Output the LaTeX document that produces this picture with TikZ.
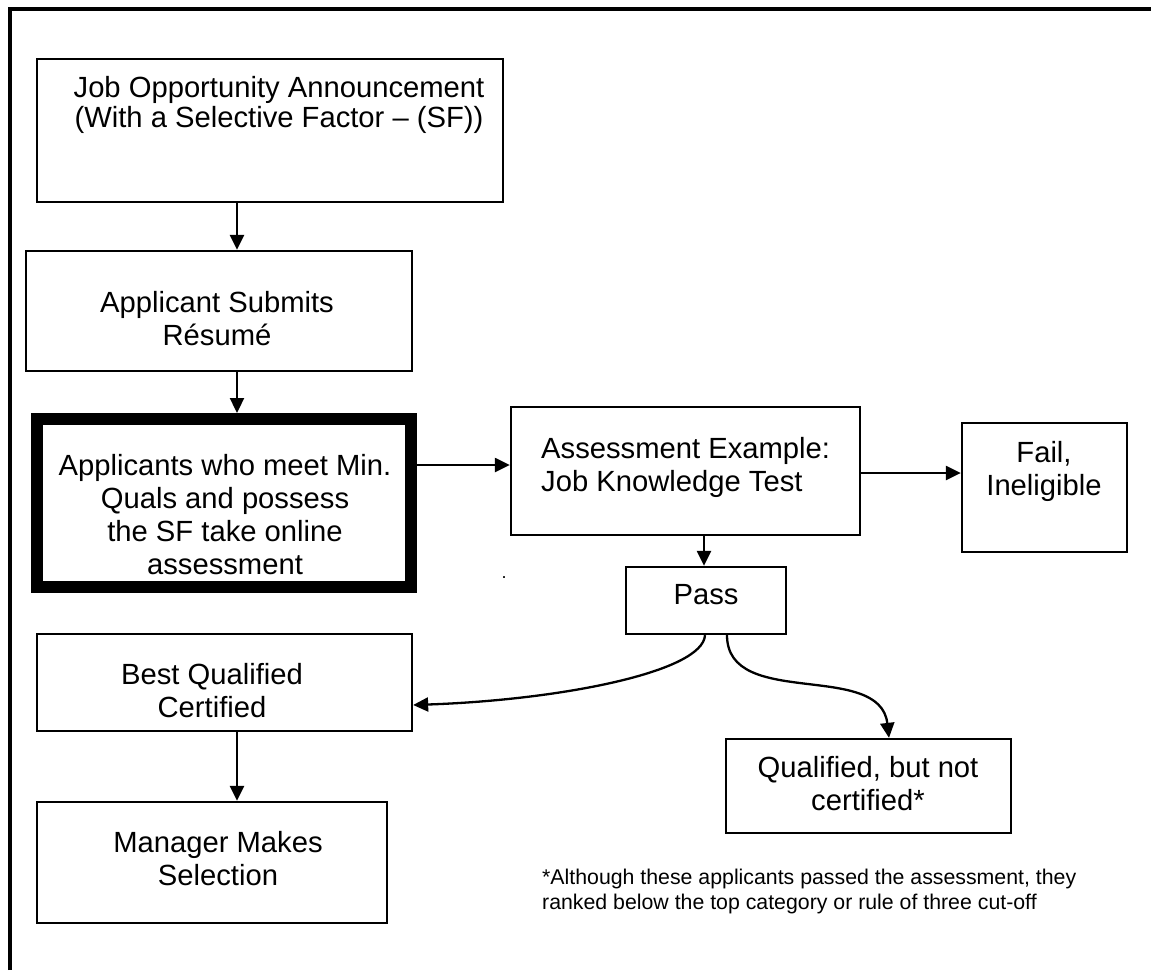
\documentclass[tikz,border=0pt]{standalone}
\usepackage{fontspec}
\setmainfont{Liberation Sans}
\usetikzlibrary{arrows.meta}

\tikzset{
  box/.style={draw, rectangle, line width=2.3pt, inner sep=0pt, outer sep=0.5\pgflinewidth},
  heavybox/.style={draw, rectangle, line width=12pt, inner sep=0pt},
  lbl/.style={inner sep=0pt, align=center, font=\fontsize{29.2}{33}\selectfont},
  lblleft/.style={inner sep=0pt, align=left, font=\fontsize{29.2}{33}\selectfont},
  note/.style={inner sep=0pt, align=left, font=\fontsize{21.3}{25}\selectfont},
  arr/.style={line width=2.3pt, -{Triangle[length=15pt,width=14pt]}},
  frameline/.style={line width=4pt, line join=miter},
}

\begin{document}
\begin{tikzpicture}[x=1pt, y=-1pt]
  \useasboundingbox (0,0) rectangle (1151,970);

  % page frame (top and left rules)
  \draw[frameline] (10,970) -- (10,8.5) -- (1151,8.5);

  % boxes
  \node[box, minimum width=466pt, minimum height=143pt] (joa)     at (270,130.5) {};
  \node[box, minimum width=386pt, minimum height=120pt] (resume)  at (219,311)   {};
  \node[heavybox, minimum width=374pt, minimum height=168pt] (quals) at (224,503) {};
  \node[box, minimum width=349pt, minimum height=128pt] (assess)  at (685.5,471) {};
  \node[box, minimum width=165pt, minimum height=129pt] (fail)    at (1044.5,487.5) {};
  \node[box, minimum width=160pt, minimum height=67pt]  (pass)    at (706,600.5) {};
  \node[box, minimum width=375pt, minimum height=97pt]  (best)    at (224.5,682.5) {};
  \node[box, minimum width=350pt, minimum height=121pt] (manager) at (212,862.5) {};
  \node[box, minimum width=285pt, minimum height=94pt]  (qual)    at (868.5,786) {};

  % box texts
  \node[lbl, font=\fontsize{29.2}{28}\selectfont] (joa-t) at (279,106)
    {\strut Job Opportunity Announcement\\\strut (With a Selective Factor -- (SF))};
  \node[lbl] (resume-t) at (217,322.2) {\strut Applicant Submits\\\strut Résumé};
  \node[lbl] (quals-t) at (225,518.7)
    {\strut Applicants who meet Min.\\\strut Quals and possess\\\strut the SF take online\\\strut assessment};
  \node[lblleft, anchor=west] (assess-t) at (541,467.9)
    {\strut Assessment Example:\\\strut Job Knowledge Test};
  \node[lbl] (fail-t) at (1044,472.4) {\strut Fail,\\\strut Ineligible};
  \node[lbl] (pass-t) at (706,597.9) {\strut Pass};
  \node[lbl] (best-t) at (212,693.9) {\strut Best Qualified\\\strut Certified};
  \node[lbl] (manager-t) at (218,862.6) {\strut Manager Makes\\\strut Selection};
  \node[lbl] (qual-t) at (868,786.9) {\strut Qualified, but not\\\strut certified*};
  \node[inner sep=0pt, anchor=base, font=\fontsize{18}{18}\selectfont] (stray) at (504,578) {.};

  % footnote
  \node[note, anchor=west] (footnote) at (542,892)
    {\strut *Although these applicants passed the assessment, they\\\strut ranked below the top category or rule of three cut-off};

  % connector guides
  \coordinate (colA) at (237,0);
  \coordinate (colP) at (704,0);
  \coordinate (rowQ) at (0,465);
  \coordinate (rowF) at (0,473);
  \coordinate (passL) at (705,0);
  \coordinate (passR) at (727,0);
  \coordinate (qualIn) at (889,0);

  % straight connectors
  \draw[arr] (joa.south -| colA) -- (resume.north -| colA);
  \draw[arr] (resume.south -| colA) -- (quals.north -| colA);
  \draw[arr] (quals.east |- rowQ) -- (assess.west |- rowQ);
  \draw[arr] (assess.east |- rowF) -- (fail.west |- rowF);
  \draw[arr] (assess.south -| colP) -- (pass.north -| colP);
  \draw[arr] (best.south -| colA) -- (manager.north -| colA);

  % curved connectors out of Pass
  \draw[arr] (pass.south -| passL) .. controls (703,672) and (560,700) .. (best.east |- 0,705);
  \draw[arr] (pass.south -| passR) .. controls (727,710) and (880,660) .. (qual.north -| qualIn);
\end{tikzpicture}
\end{document}
